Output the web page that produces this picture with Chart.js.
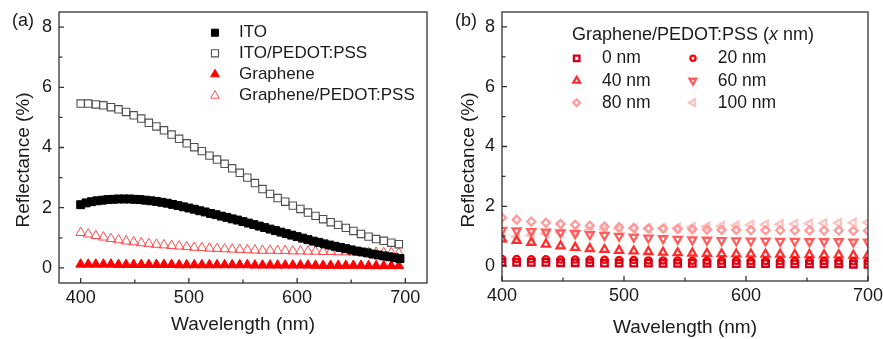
<!DOCTYPE html>
<html>
<head>
<meta charset="utf-8">
<script src="https://cdn.jsdelivr.net/npm/chart.js@4.4.1/dist/chart.umd.min.js"></script>
<style>
  html, body { margin: 0; padding: 0; background: #fff; }
  #wrap { position: relative; width: 883px; height: 339px; }
  canvas { position: absolute; top: 0; }
  #chartA { left: 0; }
  #chartB { left: 441px; }
</style>
</head>
<body>
<div id="wrap">
  <canvas id="chartA" width="441" height="339"></canvas>
  <canvas id="chartB" width="442" height="339"></canvas>
</div>
<script>
// ---- data ----
// panel (a): wavelengths (nm) for the sparse series
const wlA = [400, 407, 414, 421, 428, 435, 442, 449, 456, 463, 470, 477, 484, 491, 498,
  505, 512, 519, 526, 533, 540, 547, 554, 561, 568, 575, 582, 589, 596, 603, 610, 617,
  624, 631, 638, 645, 652, 659, 666, 673, 680, 687, 694];
// the ITO series is sampled more densely (looks like a solid band)
const wlIto = [400, 405, 410, 415, 420, 425, 430, 435, 440, 445, 450, 455, 460, 465, 470,
  475, 480, 485, 490, 495, 500, 505, 510, 515, 520, 525, 530, 535, 540, 545, 550, 555,
  560, 565, 570, 575, 580, 585, 590, 595, 600, 605, 610, 615, 620, 625, 630, 635, 640,
  645, 650, 655, 660, 665, 670, 675, 680, 685, 690, 695];

const ito = [2.10, 2.16, 2.20, 2.23, 2.25, 2.27, 2.28, 2.29, 2.29, 2.29, 2.28, 2.27, 2.25,
  2.23, 2.21, 2.18, 2.15, 2.11, 2.07, 2.03, 1.99, 1.95, 1.90, 1.86, 1.81, 1.77, 1.72, 1.68,
  1.63, 1.59, 1.54, 1.49, 1.44, 1.39, 1.34, 1.29, 1.24, 1.19, 1.14, 1.09, 1.04, 0.99, 0.94,
  0.89, 0.85, 0.80, 0.76, 0.72, 0.68, 0.64, 0.60, 0.56, 0.53, 0.50, 0.46, 0.43, 0.40, 0.37,
  0.34, 0.31];
const itoPedot = [5.46, 5.46, 5.43, 5.40, 5.34, 5.27, 5.18, 5.07, 4.96, 4.82, 4.70, 4.57,
  4.43, 4.29, 4.14, 4.01, 3.88, 3.73, 3.60, 3.46, 3.31, 3.16, 3.00, 2.82, 2.62, 2.46, 2.32,
  2.20, 2.07, 1.96, 1.84, 1.73, 1.62, 1.52, 1.43, 1.33, 1.23, 1.13, 1.04, 0.96, 0.90, 0.84,
  0.79];
const graphene = [0.12, 0.12, 0.12, 0.12, 0.12, 0.11, 0.11, 0.11, 0.11, 0.11, 0.11, 0.11,
  0.11, 0.10, 0.10, 0.10, 0.10, 0.10, 0.10, 0.10, 0.10, 0.10, 0.10, 0.09, 0.09, 0.09, 0.09,
  0.09, 0.09, 0.09, 0.09, 0.08, 0.08, 0.08, 0.08, 0.08, 0.08, 0.08, 0.07, 0.07, 0.07, 0.07,
  0.07];
const graphenePedot = [1.17, 1.12, 1.07, 1.02, 0.97, 0.93, 0.89, 0.86, 0.83, 0.80, 0.78,
  0.76, 0.74, 0.72, 0.70, 0.68, 0.67, 0.65, 0.64, 0.63, 0.62, 0.61, 0.60, 0.59, 0.58, 0.58,
  0.57, 0.57, 0.56, 0.56, 0.55, 0.55, 0.54, 0.54, 0.53, 0.53, 0.52, 0.52, 0.51, 0.51, 0.50,
  0.50, 0.49];

// panel (b): PEDOT:PSS thickness series
const wlB = [400, 412, 424, 436, 448, 460, 472, 484, 496, 508, 520, 532, 544, 556, 568,
  580, 592, 604, 616, 628, 640, 652, 664, 676, 688, 700];
const pedot0 = [0.13, 0.12, 0.12, 0.12, 0.11, 0.11, 0.11, 0.10, 0.10, 0.10, 0.10, 0.09,
  0.09, 0.09, 0.09, 0.08, 0.08, 0.08, 0.08, 0.07, 0.07, 0.07, 0.07, 0.07, 0.06, 0.06];
const pedot20 = [0.24, 0.24, 0.23, 0.23, 0.22, 0.22, 0.21, 0.21, 0.20, 0.20, 0.19, 0.19,
  0.19, 0.18, 0.18, 0.18, 0.18, 0.17, 0.17, 0.17, 0.17, 0.17, 0.17, 0.16, 0.16, 0.16];
const pedot40 = [0.90, 0.85, 0.79, 0.73, 0.67, 0.62, 0.58, 0.55, 0.52, 0.50, 0.48, 0.46,
  0.44, 0.43, 0.42, 0.41, 0.40, 0.40, 0.39, 0.39, 0.38, 0.38, 0.37, 0.37, 0.36, 0.36];
const pedot60 = [1.20, 1.18, 1.16, 1.14, 1.12, 1.09, 1.06, 1.03, 1.00, 0.97, 0.94, 0.92,
  0.90, 0.88, 0.87, 0.86, 0.85, 0.84, 0.84, 0.83, 0.83, 0.82, 0.82, 0.82, 0.81, 0.81];
const pedot80 = [1.62, 1.55, 1.49, 1.45, 1.41, 1.38, 1.35, 1.32, 1.30, 1.28, 1.26, 1.25,
  1.24, 1.23, 1.22, 1.21, 1.21, 1.20, 1.20, 1.20, 1.19, 1.19, 1.19, 1.19, 1.18, 1.18];
const pedot100 = [0.95, 0.98, 1.03, 1.09, 1.14, 1.18, 1.21, 1.23, 1.24, 1.25, 1.26, 1.27,
  1.28, 1.30, 1.32, 1.34, 1.36, 1.38, 1.39, 1.40, 1.41, 1.42, 1.43, 1.44, 1.45, 1.46];

// tick labels
const xMajor = [400, 500, 600, 700];
const xMinor = [450, 550, 650];
const yMajor = [0, 2, 4, 6, 8];
const yMinor = [1, 3, 5, 7];

const FONT = "'Liberation Sans', Arial, sans-serif";
const INK = "#1a1a1a";

function series(xs, ys) {
  return xs.map((x, i) => ({ x: x, y: ys[i] }));
}

// draws one marker the same way chart.js does
function marker(ctx, style, rot, r, bw, fill, stroke, x, y) {
  ctx.save();
  ctx.fillStyle = fill;
  ctx.strokeStyle = stroke;
  ctx.lineWidth = bw;
  Chart.helpers.drawPoint(ctx, { pointStyle: style, rotation: rot, radius: r, borderWidth: bw }, x, y);
  ctx.restore();
}

// frame, inward ticks, panel letter, y title and the legend
const decor = {
  id: "decor",
  afterDraw(chart, args, o) {
    const ctx = chart.ctx;
    const a = chart.chartArea;
    const xs = chart.scales.x, ys = chart.scales.y;
    ctx.save();
    ctx.strokeStyle = "#333";
    ctx.lineWidth = 1.3;
    ctx.strokeRect(a.left, a.top, a.right - a.left, a.bottom - a.top);
    ctx.beginPath();
    xMajor.concat(xMinor).forEach(v => {
      const px = xs.getPixelForValue(v);
      const len = xMajor.includes(v) ? 5 : 3.5;
      ctx.moveTo(px, a.bottom);
      ctx.lineTo(px, a.bottom - len);
    });
    yMajor.concat(yMinor).forEach(v => {
      const py = ys.getPixelForValue(v);
      const len = yMajor.includes(v) ? 5 : 3.5;
      ctx.moveTo(a.left, py);
      ctx.lineTo(a.left + len, py);
    });
    ctx.stroke();

    ctx.fillStyle = INK;
    ctx.font = "18px " + FONT;
    ctx.textBaseline = "middle";
    ctx.textAlign = "left";
    ctx.fillText(o.letter, o.letterX, 21);

    ctx.save();
    ctx.translate(o.yTitleX, 160);
    ctx.rotate(-Math.PI / 2);
    ctx.textAlign = "center";
    ctx.font = "19px " + FONT;
    ctx.fillText("Reflectance (%)", 0, 0);
    ctx.restore();

    o.legend(ctx);
    ctx.restore();
  }
};

function scalesFor(xMin, xMax, yWidth, xHeight, titlePad) {
  return {
    x: {
      type: "linear", min: xMin, max: xMax,
      grid: { display: false, drawTicks: false },
      border: { display: false },
      afterBuildTicks: s => { s.ticks = xMajor.map(v => ({ value: v })); },
      afterFit: s => { s.height = xHeight; s.paddingLeft = 0; s.paddingRight = 0; },
      ticks: { color: INK, font: { family: FONT, size: 18 }, padding: 4, maxRotation: 0, autoSkip: false },
      title: { display: true, text: "Wavelength (nm)", color: INK,
        font: { family: FONT, size: 19 }, padding: { top: 0, bottom: titlePad } }
    },
    y: {
      type: "linear", min: -0.5, max: 8.5,
      grid: { display: false, drawTicks: false },
      border: { display: false },
      afterBuildTicks: s => { s.ticks = yMajor.map(v => ({ value: v })); },
      afterFit: s => { s.width = yWidth; s.paddingTop = 0; s.paddingBottom = 0; },
      ticks: { color: INK, font: { family: FONT, size: 18 }, padding: 7 }
    }
  };
}

function pointSet(label, data, style, rot, r, bw, fill, stroke) {
  return {
    label: label, data: data, showLine: false,
    pointStyle: style, rotation: rot, pointRadius: r, pointBorderWidth: bw,
    pointBackgroundColor: fill, pointBorderColor: stroke
  };
}

// ---- panel (a) ----
const seriesA = [
  { label: "ITO", style: "rect", rot: 0, r: 5.6, bw: 1, fill: "#000", stroke: "#000" },
  { label: "ITO/PEDOT:PSS", style: "rect", rot: 0, r: 5.2, bw: 1.1, fill: "rgba(0,0,0,0)", stroke: "#505050" },
  { label: "Graphene", style: "triangle", rot: 0, r: 5.6, bw: 1, fill: "#ff0000", stroke: "#ff0000" },
  { label: "Graphene/PEDOT:PSS", style: "triangle", rot: 0, r: 5.6, bw: 1, fill: "rgba(0,0,0,0)", stroke: "#ff4a4a" }
];
const dataA = [series(wlIto, ito), series(wlA, itoPedot), series(wlA, graphene), series(wlA, graphenePedot)];

new Chart(document.getElementById("chartA"), {
  type: "scatter",
  data: {
    datasets: seriesA.map((s, i) => pointSet(s.label, dataA[i], s.style, s.rot, s.r, s.bw, s.fill, s.stroke))
  },
  options: {
    responsive: false, animation: false, devicePixelRatio: 1, events: [],
    layout: { padding: { left: 0, right: 14, top: 12, bottom: 0 } },
    scales: scalesFor(380, 720, 59, 56, 3),
    plugins: {
      legend: { display: false }, tooltip: { enabled: false },
      decor: {
        letter: "(a)", letterX: 12, yTitleX: 24,
        legend: ctx => {
          const rows = [32.7, 53.3, 74.3, 95.7];
          seriesA.forEach((s, i) => {
            const fill = s.fill === "rgba(0,0,0,0)" ? "#fff" : s.fill;
            marker(ctx, s.style, s.rot, 5, s.bw, fill, s.stroke, 215, rows[i]);
            ctx.fillStyle = INK;
            ctx.font = "17px " + FONT;
            ctx.textAlign = "left";
            ctx.textBaseline = "middle";
            ctx.fillText(s.label, 239, rows[i]);
          });
        }
      }
    }
  },
  plugins: [decor]
});

// ---- panel (b) ----
const seriesB = [
  { label: "0 nm", vals: pedot0, style: "rect", rot: 0, r: 4.6, color: "#d0001a" },
  { label: "20 nm", vals: pedot20, style: "circle", rot: 0, r: 3.1, color: "#ff0000" },
  { label: "40 nm", vals: pedot40, style: "triangle", rot: 0, r: 4.6, color: "#ff2e2e" },
  { label: "60 nm", vals: pedot60, style: "triangle", rot: 180, r: 4.6, color: "#ff5c5c" },
  { label: "80 nm", vals: pedot80, style: "rectRot", rot: 0, r: 4, color: "#ff9a9a" },
  { label: "100 nm", vals: pedot100, style: "triangle", rot: 270, r: 4.6, color: "#ffc2c2" }
];

new Chart(document.getElementById("chartB"), {
  type: "scatter",
  data: {
    datasets: seriesB.map(s => pointSet(s.label, series(wlB, s.vals), s.style, s.rot, s.r, 2.3,
      "rgba(0,0,0,0)", s.color))
  },
  options: {
    responsive: false, animation: false, devicePixelRatio: 1, events: [],
    layout: { padding: { left: 0, right: 15, top: 12, bottom: 0 } },
    scales: scalesFor(400, 700, 61, 58, 0),
    plugins: {
      legend: { display: false }, tooltip: { enabled: false },
      decor: {
        letter: "(b)", letterX: 14, yTitleX: 28,
        legend: ctx => {
          ctx.fillStyle = INK;
          ctx.textAlign = "left";
          ctx.textBaseline = "middle";
          let x = 131;
          const parts = [["Graphene/PEDOT:PSS (", ""], ["x", "italic "], [" nm)", ""]];
          parts.forEach(p => {
            ctx.font = p[1] + "18px " + FONT;
            ctx.fillText(p[0], x, 35);
            x += ctx.measureText(p[0]).width;
          });
          const cols = [[135.7, 161], [252, 276.7]];
          const rows = [58.3, 80.7, 102.7];
          seriesB.forEach((s, i) => {
            const c = cols[i % 2], y = rows[Math.floor(i / 2)];
            marker(ctx, s.style, s.rot, s.r * 0.85, 2.3, "#fff", s.color, c[0], y);
            ctx.fillStyle = INK;
            ctx.font = "17.5px " + FONT;
            ctx.fillText(s.label, c[1], y);
          });
        }
      }
    }
  },
  plugins: [decor]
});
</script>
</body>
</html>
